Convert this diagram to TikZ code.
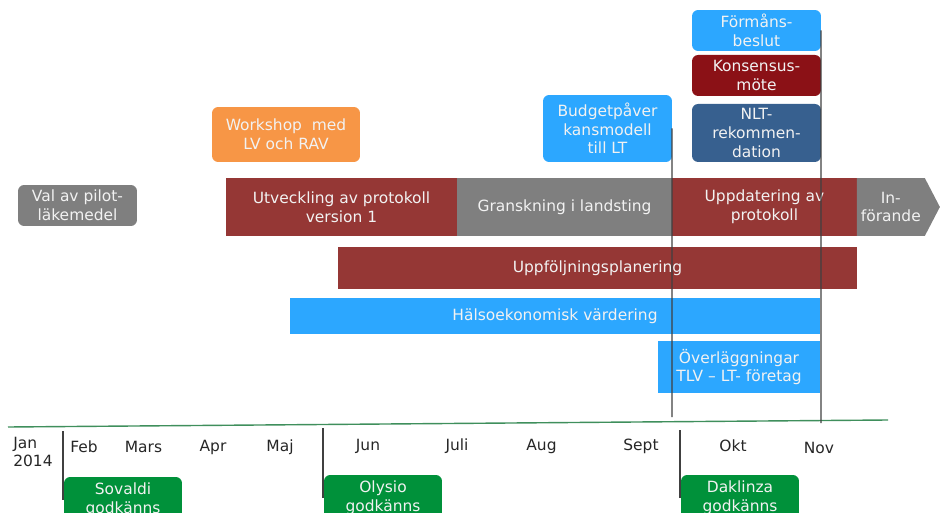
\documentclass[tikz,border=0pt]{standalone}
\usepackage{fontspec}
\setmainfont{DejaVu Sans}
\usepackage{xcolor}
\usepackage{tikz}
\usetikzlibrary{positioning,shapes.symbols}
\definecolor{pred}{HTML}{953735}
\definecolor{pgray}{HTML}{7F7F7F}
\definecolor{pblue}{HTML}{2CA7FF}
\definecolor{porange}{HTML}{F79646}
\definecolor{pdred}{HTML}{8B1116}
\definecolor{pnavy}{HTML}{37608F}
\definecolor{pgreen}{HTML}{00913A}
\definecolor{paxis}{HTML}{3F8F5C}
\definecolor{ptext}{HTML}{262626}
\definecolor{pline}{HTML}{404040}

\begin{document}
\begin{tikzpicture}[x=0.02cm, y=-0.02cm,
        box/.style={rectangle, fill=#1, text=white!95!black, align=center,
        inner sep=0pt, outer sep=0pt, font=\fontsize{8.8}{10.6}\selectfont},
        rbox/.style={box=#1, rounded corners=3.5pt},
        month/.style={text=ptext, inner sep=0pt, font=\fontsize{8.8}{10.6}\selectfont},
        vline/.style={draw=pline, line width=0.7pt}]

        \useasboundingbox (0,0) rectangle (940,513);
        \clip (0,0) rectangle (940,513);

        \node[rbox=pgray, minimum width=2.38cm, minimum height=0.82cm] (V) at (77.5,205.5) {Val av pilot-\\läkemedel};
        \node[rbox=porange, minimum width=2.96cm, minimum height=1.10cm] (W) at (286,134.5) {Workshop\ \ med\\LV och RAV};

        \node[box=pred, minimum width=4.62cm, minimum height=1.16cm] (U) at (341.5,207) {Utveckling av protokoll\\version 1};
        \node[box=pgray, minimum width=4.30cm, minimum height=1.16cm, right=0pt of U] (G) {Granskning i landsting};
        \node[box=pred, minimum width=3.70cm, minimum height=1.16cm, right=0pt of G] (P) {Uppdatering av\\protokoll};
        \node[box=pgray, signal, signal to=east, signal pointer angle=125,
            minimum width=1.66cm, minimum height=1.16cm, right=0pt of P] (I) {In-\\förande};

        \node[box=pred, minimum width=10.38cm, minimum height=0.84cm] (F) at (597.5,268) {Uppföljningsplanering};
        \node[box=pblue, minimum width=10.60cm, minimum height=0.72cm] (H) at (555,316) {Hälsoekonomisk värdering};
        \node[box=pblue, minimum width=3.24cm, minimum height=1.04cm] (O) at (739,367) {Överläggningar\\TLV -- LT- företag};

        \node[rbox=pblue, minimum width=2.58cm, minimum height=1.34cm] (B) at (607.5,128.5) {Budgetpåver\\kansmodell\\till LT};
        \node[rbox=pblue, minimum width=2.58cm, minimum height=0.82cm] (FB) at (756.5,30.5) {Förmåns-\\beslut};
        \node[rbox=pdred, minimum width=2.58cm, minimum height=0.82cm, below=0.08cm of FB] (K) {Konsensus-\\möte};
        \node[rbox=pnavy, minimum width=2.58cm, minimum height=1.16cm, below=0.16cm of K] (N) {NLT-\\rekommen-\\dation};

        \coordinate (A0) at (8,427);
        \coordinate (A1) at (888,420);
        \draw[draw=paxis, line width=0.8pt] (A0) -- (A1);

        \node[month, align=left] (M1) at (33,452) {Jan\\2014};
        \node[month] (M2) at (84,447) {Feb};
        \node[month] (M3) at (143.5,447) {Mars};
        \node[month] (M4) at (213,447) {Apr};
        \node[month] (M5) at (280,447) {Maj};
        \node[month] (M6) at (368,446) {Jun};
        \node[month] (M7) at (457,446) {Juli};
        \node[month] (M8) at (541.5,446) {Aug};
        \node[month] (M9) at (641,446) {Sept};
        \node[month] (M10) at (733,446) {Okt};
        \node[month] (M11) at (819,448) {Nov};

        \node[rbox=pgreen, minimum width=2.36cm, minimum height=0.90cm] (S1) at (123,499.5) {Sovaldi\\godkänns};
        \node[rbox=pgreen, minimum width=2.36cm, minimum height=0.90cm] (S2) at (383,497.5) {Olysio\\godkänns};
        \node[rbox=pgreen, minimum width=2.36cm, minimum height=0.90cm] (S3) at (740,497.5) {Daklinza\\godkänns};

        \coordinate (E1) at (672,417);
        \coordinate (E2) at (821,423);
        \draw[vline] (B.east) -- (E1);
        \draw[vline] (FB.east) -- (E2);

        \coordinate (T1) at (63,431);
        \coordinate (T2) at (323,428);
        \coordinate (T3) at (680,430);
        \draw[vline] (T1) -- (T1 |- S1.west);
        \draw[vline] (T2) -- (T2 |- S2.west);
        \draw[vline] (T3) -- (T3 |- S3.west);
    \end{tikzpicture}
\end{document}
